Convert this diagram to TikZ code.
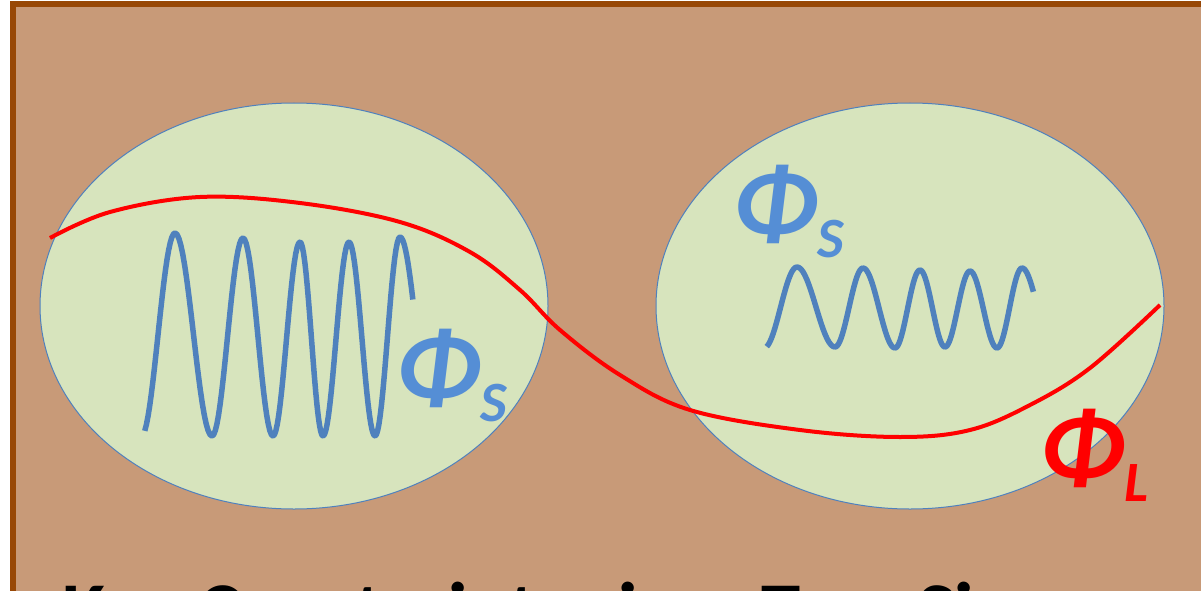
\documentclass[tikz,border=0pt]{standalone}
\usepackage{fontspec}
\setmainfont{Carlito}
\usetikzlibrary{positioning}

\definecolor{soil}{HTML}{C89A78}
\definecolor{soiledge}{HTML}{984806}
\definecolor{patch}{HTML}{D7E4BD}
\definecolor{patchedge}{HTML}{4F81BD}
\definecolor{shortblue}{HTML}{558ED5}

\newcommand{\fieldlabel}[1]{{\fontsize{105}{105}\selectfont Φ}\raisebox{-19pt}{\fontsize{57}{57}\selectfont #1}}

\begin{document}
\begin{tikzpicture}[
        x=1pt, y=-1pt,
        patch/.style={fill=patch, draw=patchedge, line width=1pt},
        wave/.style={draw=patchedge, line width=5.5pt, line join=round},
        longmode/.style={draw=red, line width=4pt, line join=round},
        phi/.style={inner sep=0pt, anchor=base west, font=\bfseries\itshape},
    ]
    \useasboundingbox (0,0) rectangle (1201,591);
    \clip (0,0) rectangle (1201,591);
    \draw[soiledge, line width=6pt, fill=soil] (13,4) rectangle (1215,605);

    % the two patches
    \draw[patch] (294,306) ellipse [x radius=254, y radius=203];
    \draw[patch] (910,306) ellipse [x radius=254, y radius=203];

    % short modes
    \draw[wave] plot[domain=20:180, samples=20] ({141+34*\x/180}, {335+102*cos(\x)})
        \foreach \xa/\ya/\xb/\yb in {175/233/212/436, 212/436/243/238, 243/238/273/436,
                                     273/436/300/242, 300/242/323/436, 323/436/349/242,
                                     349/242/375/436, 375/436/400/237} {
            -- plot[domain=0:180, samples=20] ({\xa+(\xb-\xa)*\x/180}, {(\ya+\yb)/2+(\ya-\yb)/2*cos(\x)})
        }
        -- plot[domain=0:68, samples=10] ({400+34*\x/180}, {337-100*cos(\x)});
    \draw[wave] plot[domain=15:180, samples=20] ({764+33*\x/180}, {307.5+40.5*cos(\x)})
        \foreach \xa/\ya/\xb/\yb in {797/267/835/347, 835/347/863/268, 863/268/895/348,
                                     895/348/920/270, 920/270/945/347, 945/347/970/271,
                                     970/271/997/348, 997/348/1022/268} {
            -- plot[domain=0:180, samples=20] ({\xa+(\xb-\xa)*\x/180}, {(\ya+\yb)/2+(\ya-\yb)/2*cos(\x)})
        }
        -- plot[domain=0:66, samples=10] ({1022+31*\x/180}, {308-40*cos(\x)});

    % long mode
    \draw[longmode] plot[smooth, tension=0.6] coordinates {
        (50,238) (110,212) (200,197) (300,203) (400,222) (470,252) (520,290)
        (560,330) (620,375) (690,410) (800,430) (900,437) (970,430)
        (1030,405) (1090,368) (1160,305)};

    % labels
    \node[phi, text=shortblue] (phiSleft) at (396,402) {\fieldlabel{S}};
    \node[phi, text=shortblue] (phiSright) at (733,238) {\fieldlabel{S}};
    \node[phi, text=red] (phiL) at (1040,482) {\fieldlabel{L}};

    \node[inner sep=0pt, anchor=base west, font=\bfseries\fontsize{79}{79}\selectfont]
        (caption) at (62,637) {Key Constraint mixes Two Sizes};
\end{tikzpicture}
\end{document}
